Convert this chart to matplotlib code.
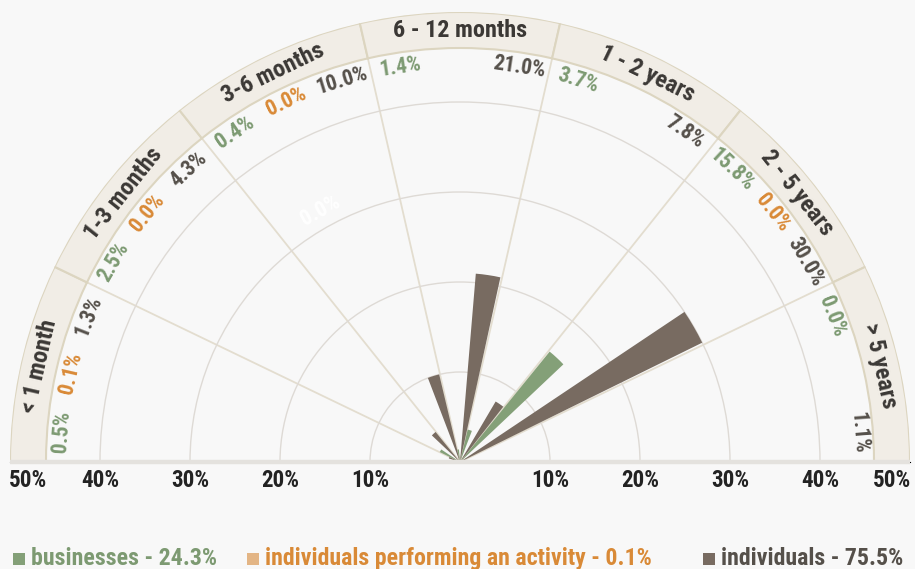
import numpy as np
import matplotlib
matplotlib.use("Agg")
import matplotlib.pyplot as plt
from matplotlib import font_manager as fm
from matplotlib.patches import Rectangle

# ---- data ----
categories = ["< 1 month", "1-3 months", "3-6 months", "6 - 12 months",
              "1 - 2 years", "2 - 5 years", "> 5 years"]
businesses = [0.5, 2.5, 0.4, 1.4, 3.7, 15.8, 0.0]
individuals_activity = [0.1, 0.0, 0.0, 0.0, 0.0, 0.0, 0.0]
individuals = [1.3, 4.3, 10.0, 21.0, 7.8, 30.0, 1.1]
activity_label_shown = [True, True, True, False, False, True, False]
radial_ticks = [10, 20, 30, 40, 50]
legend_labels = ["businesses - 24.3%", "individuals performing an activity - 0.1%",
                 "individuals - 75.5%"]

# ---- style ----
BG = "#f8f8f8"
GREEN, ORANGE, BROWN = "#84a078", "#e3a466", "#786b61"
GREEN_T, ORANGE_T, BROWN_T = "#7d9a72", "#d98a37", "#55504a"
RING_FILL, RING_EDGE = "#f1ede6", "#dcd5c0"

names = {f.name for f in fm.fontManager.ttflist}
FONT, STRETCH = "DejaVu Sans", "condensed"
for cand in ["Roboto Condensed", "Open Sans Condensed", "Liberation Sans Narrow",
             "Noto Sans Condensed"]:
    if cand in names:
        FONT, STRETCH = cand, "normal"
        break

fig = plt.figure(figsize=(9.15, 5.69), dpi=100, facecolor=BG)
renderer = fig.canvas.get_renderer()


def fit_size(s, target_px, weight="bold"):
    t = fig.text(0, 0, s, fontsize=10, fontweight=weight, family=FONT,
                 fontstretch=STRETCH)
    w = t.get_window_extent(renderer).width
    t.remove()
    return 10 * target_px / w


CAT_FS = fit_size("6 - 12 months", 134)
VAL_FS = fit_size("10.0%", 53)
TICK_FS = fit_size("40%", 38)
LEG_FS = fit_size(legend_labels[0], 187)

# square box so the half-disc spans 900 px wide, centred at (460, 462)
ax = fig.add_axes([10 / 915, -118 / 569, 900 / 915, 900 / 569], projection="polar")
ax.set_facecolor(BG)
ax.patch.set_edgecolor("none")
ax.set_thetamin(0)
ax.set_thetamax(180)
ax.set_ylim(0, 50)
for sp in ax.spines.values():
    sp.set_visible(False)

n = len(categories)
sw = 180.0 / n
bounds = [180 - i * sw for i in range(1, n)]
ax.set_xticks(np.deg2rad(bounds))
ax.set_xticklabels([])
ax.set_yticks(radial_ticks[:-1])
ax.set_yticklabels([])
ax.tick_params(axis="both", length=0, width=0)
ax.set_axisbelow(True)
ax.xaxis.grid(True, color="#e3ddcf", lw=1.3)
ax.yaxis.grid(True, color="#dedad5", lw=1.0)

# outer ring
sector_centers = np.deg2rad([180 - (i + 0.5) * sw for i in range(n)])
ax.bar(sector_centers, 4, width=np.deg2rad(sw), bottom=46, color=RING_FILL,
       edgecolor=RING_EDGE, lw=1.5, zorder=2)

series = [businesses, individuals_activity, individuals]
colors = [GREEN, ORANGE, BROWN]
tcolors = [GREEN_T, ORANGE_T, BROWN_T]
slot = sw / 3
for j, (vals, c, tc) in enumerate(zip(series, colors, tcolors)):
    ang = np.array([180 - i * sw - (j + 0.5) * slot for i in range(n)])
    ax.bar(np.deg2rad(ang), vals, width=np.deg2rad(slot * 0.88), color=c,
           edgecolor="none", zorder=3)
    for i, (a, v) in enumerate(zip(ang, vals)):
        if j == 1 and not activity_label_shown[i]:
            continue
        ax.text(np.deg2rad(a), 44.4, f"{v:.1f}%", rotation=a - 90,
                rotation_mode="anchor", ha="center", va="center", color=tc,
                fontsize=VAL_FS, fontweight="bold", family=FONT,
                fontstretch=STRETCH, zorder=4)

# faint stray label
ax.text(np.deg2rad(119), 32, "0.0%", rotation=29, rotation_mode="anchor",
        ha="center", va="center", color="#ffffff", fontsize=VAL_FS,
        fontweight="bold", family=FONT, fontstretch=STRETCH, zorder=4)

# category labels in ring
for i, cat in enumerate(categories):
    a = 180 - (i + 0.5) * sw
    ax.text(np.deg2rad(a), 47.9, cat, rotation=a - 90, rotation_mode="anchor",
            ha="center", va="center", color="#3b3835", fontsize=CAT_FS,
            fontweight="bold", family=FONT, fontstretch=STRETCH, zorder=5)

# baseline (light, drawn above the axis edge)
for th in (0, 180):
    ax.plot(np.deg2rad([th, th]), [0, 50], color="#e4e2de", lw=3.2, zorder=3.5,
            solid_capstyle="butt", clip_on=False)

# radial tick labels
for t in radial_ticks:
    r = 48 if t == 50 else t
    for th in (0, 180):
        ax.annotate(f"{t}%", xy=(np.deg2rad(th), r), xytext=(0, -5),
                    textcoords="offset points", ha="center", va="top",
                    fontsize=TICK_FS, fontweight="bold", color="#232323",
                    family=FONT, fontstretch=STRETCH, annotation_clip=False)

# legend
leg_x = [(13, 31), (247, 265), (703, 721)]
leg_marker = [GREEN, "#e3b585", BROWN]
leg_text = [GREEN_T, ORANGE_T, BROWN_T]
W, H = 915.0, 569.0
base_y = 565
for (mx, tx), lab, mc, tc in zip(leg_x, legend_labels, leg_marker, leg_text):
    fig.patches.append(Rectangle((mx / W, 1 - base_y / H), 12 / W, 12 / H,
                                 transform=fig.transFigure, facecolor=mc,
                                 edgecolor="none"))
    fig.text(tx / W, 1 - base_y / H, lab, color=tc, fontsize=LEG_FS,
             fontweight="bold", ha="left", va="baseline", family=FONT,
             fontstretch=STRETCH)

fig.savefig("out.png", dpi=100, facecolor=BG)
